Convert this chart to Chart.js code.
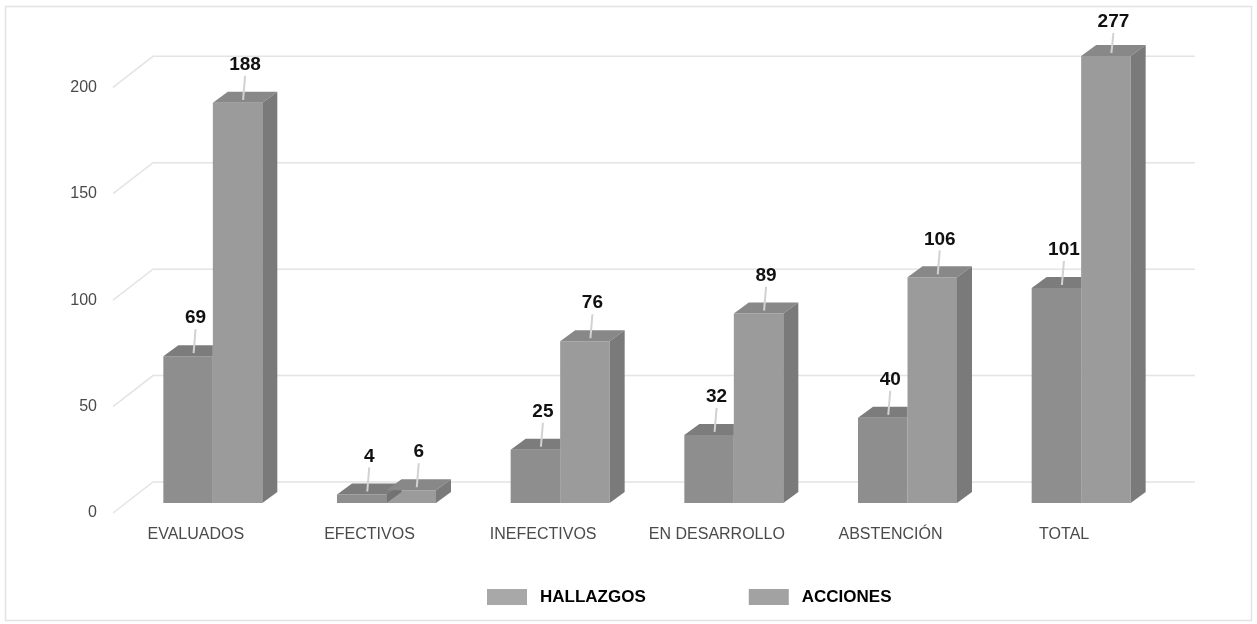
<!DOCTYPE html>
<html>
<head>
<meta charset="utf-8">
<script src="https://cdn.jsdelivr.net/npm/chart.js@4"></script>
<style>
  html, body { margin: 0; padding: 0; background: #fff; }
</style>
</head>
<body>
<canvas id="barChart" width="1257" height="624"></canvas>
<script>
"use strict"

var categorias = ["EVALUADOS", "EFECTIVOS", "INEFECTIVOS", "EN DESARROLLO", "ABSTENCIÓN", "TOTAL"];
var hallazgos = [69, 4, 25, 32, 40, 101];
var acciones = [188, 6, 76, 89, 106, 277];
var ticksEje = [0, 50, 100, 150, 200];

var fuente = "'Liberation Sans', Arial, sans-serif";

// depth of each bar and of the back wall
var prof = { dx: 15, dy: 11 };
var pared = { front: 13, dx: 40, dy: 31, label: 10 };

var caras = {
  top: ["#7c7c7c", "#888888"],
  side: ["#727272", "#7a7a7a"]
};

var marco = {
  id: 'marco',
  beforeDraw: function(chart) {
    var ctx = chart.ctx;
    ctx.save();
    ctx.fillStyle = '#fff';
    ctx.fillRect(0, 0, chart.width, chart.height);
    ctx.strokeStyle = '#e3e3e3';
    ctx.lineWidth = 1.5;
    ctx.strokeRect(5.5, 6.5, chart.width - 11, chart.height - 10);
    ctx.restore();
  }
};

var cubos = {
  id: 'cubos',
  beforeDatasetsDraw: function(chart) {
    var ctx = chart.ctx, area = chart.chartArea, y = chart.scales.y;
    ctx.save();
    ctx.strokeStyle = '#e4e4e4';
    ctx.lineWidth = 1.5;
    y.ticks.forEach(function(t) {
      var py = y.getPixelForValue(t.value);
      ctx.beginPath();
      ctx.moveTo(area.left - pared.front, py + pared.label);
      ctx.lineTo(area.left - pared.front + pared.dx, py + pared.label - pared.dy);
      ctx.lineTo(area.right + pared.dx - pared.front, py + pared.label - pared.dy);
      ctx.stroke();
    });
    ctx.restore();
  },
  afterDatasetsDraw: function(chart) {
    var ctx = chart.ctx, area = chart.chartArea;
    var m0 = chart.getDatasetMeta(0), m1 = chart.getDatasetMeta(1);
    ctx.save();
    [m0, m1].forEach(function(meta, d) {
      meta.data.forEach(function(bar, i) {
        var half = bar.width / 2, l = bar.x - half, r = bar.x + half;
        var top = Math.max(bar.y, area.top), base = bar.base;
        var tapado = false;
        if (d === 0) {
          tapado = Math.max(m1.data[i].y, area.top) <= top - prof.dy;
        }
        // top face
        ctx.fillStyle = caras.top[d];
        ctx.beginPath();
        ctx.moveTo(l, top);
        ctx.lineTo(l + prof.dx, top - prof.dy);
        ctx.lineTo(tapado ? r : r + prof.dx, top - prof.dy);
        ctx.lineTo(r, top);
        ctx.closePath();
        ctx.fill();
        // right side face
        if (!tapado) {
          ctx.fillStyle = caras.side[d];
          ctx.beginPath();
          ctx.moveTo(r, top);
          ctx.lineTo(r + prof.dx, top - prof.dy);
          ctx.lineTo(r + prof.dx, base - prof.dy);
          ctx.lineTo(r, base);
          ctx.closePath();
          ctx.fill();
        }
      });
    });

    // value labels with their leader lines
    [m0, m1].forEach(function(meta, d) {
      var valores = chart.data.datasets[d].data;
      meta.data.forEach(function(bar, i) {
        var cortada = bar.y < area.top;
        var top = Math.max(bar.y, area.top);
        var sube = cortada ? 34 : 38;
        var cx = bar.x + prof.dx / 2 - 2;
        ctx.strokeStyle = '#d2d2d2';
        ctx.lineWidth = 2;
        ctx.beginPath();
        ctx.moveTo(cx + 2, top - sube + 11);
        ctx.lineTo(cx, top - 3);
        ctx.stroke();
        ctx.fillStyle = '#111';
        ctx.font = 'bold 19px ' + fuente;
        ctx.textAlign = 'center';
        ctx.textBaseline = 'middle';
        ctx.fillText(String(valores[i]), cx + 2, top - sube);
      });
    });
    ctx.restore();
  },
  afterDraw: function(chart) {
    // legend along the bottom
    var ctx = chart.ctx;
    var x = 487, yc = 597;
    ctx.save();
    ctx.font = 'bold 17px ' + fuente;
    ctx.textAlign = 'left';
    ctx.textBaseline = 'middle';
    chart.data.datasets.forEach(function(ds) {
      ctx.fillStyle = ds.legendColor;
      ctx.fillRect(x, yc - 8, 40, 16);
      ctx.fillStyle = '#000';
      ctx.fillText(ds.label, x + 53, yc);
      x += 53 + ctx.measureText(ds.label).width + 103;
    });
    ctx.restore();
  }
};

var ctxB = document.getElementById("barChart").getContext('2d');
var graficoBarras = new Chart(ctxB, {
  type: 'bar',
  data: {
    labels: categorias,
    datasets: [{
      label: "HALLAZGOS",
      data: hallazgos,
      backgroundColor: "#8e8e8e",
      legendColor: "#a8a8a8",
      clip: 0
    }, {
      label: "ACCIONES",
      data: acciones,
      backgroundColor: "#9b9b9b",
      legendColor: "#a2a2a2",
      clip: 0
    }]
  },
  options: {
    responsive: false,
    animation: false,
    events: [],
    barPercentage: 1,
    categoryPercentage: 0.57,
    layout: {
      padding: { left: 10, right: 89, top: 56, bottom: 0 }
    },
    plugins: {
      legend: { display: false },
      tooltip: { enabled: false }
    },
    scales: {
      x: {
        grid: { display: false, drawTicks: false },
        border: { display: false },
        ticks: {
          color: '#4a4a4a',
          font: { family: fuente, size: 16 },
          padding: 22,
          labelOffset: -17,
          maxRotation: 0
        },
        afterFit: function(scale) { scale.height = 121; }
      },
      y: {
        min: 0,
        max: 210,
        grid: { display: false, drawTicks: false },
        border: { display: false },
        afterBuildTicks: function(scale) {
          scale.ticks = ticksEje.map(function(v) { return { value: v }; });
        },
        ticks: {
          color: '#4a4a4a',
          font: { family: fuente, size: 16 },
          padding: 29,
          labelOffset: 10
        },
        afterFit: function(scale) { scale.width = 116; }
      }
    }
  },
  plugins: [marco, cubos]
});
</script>
</body>
</html>
